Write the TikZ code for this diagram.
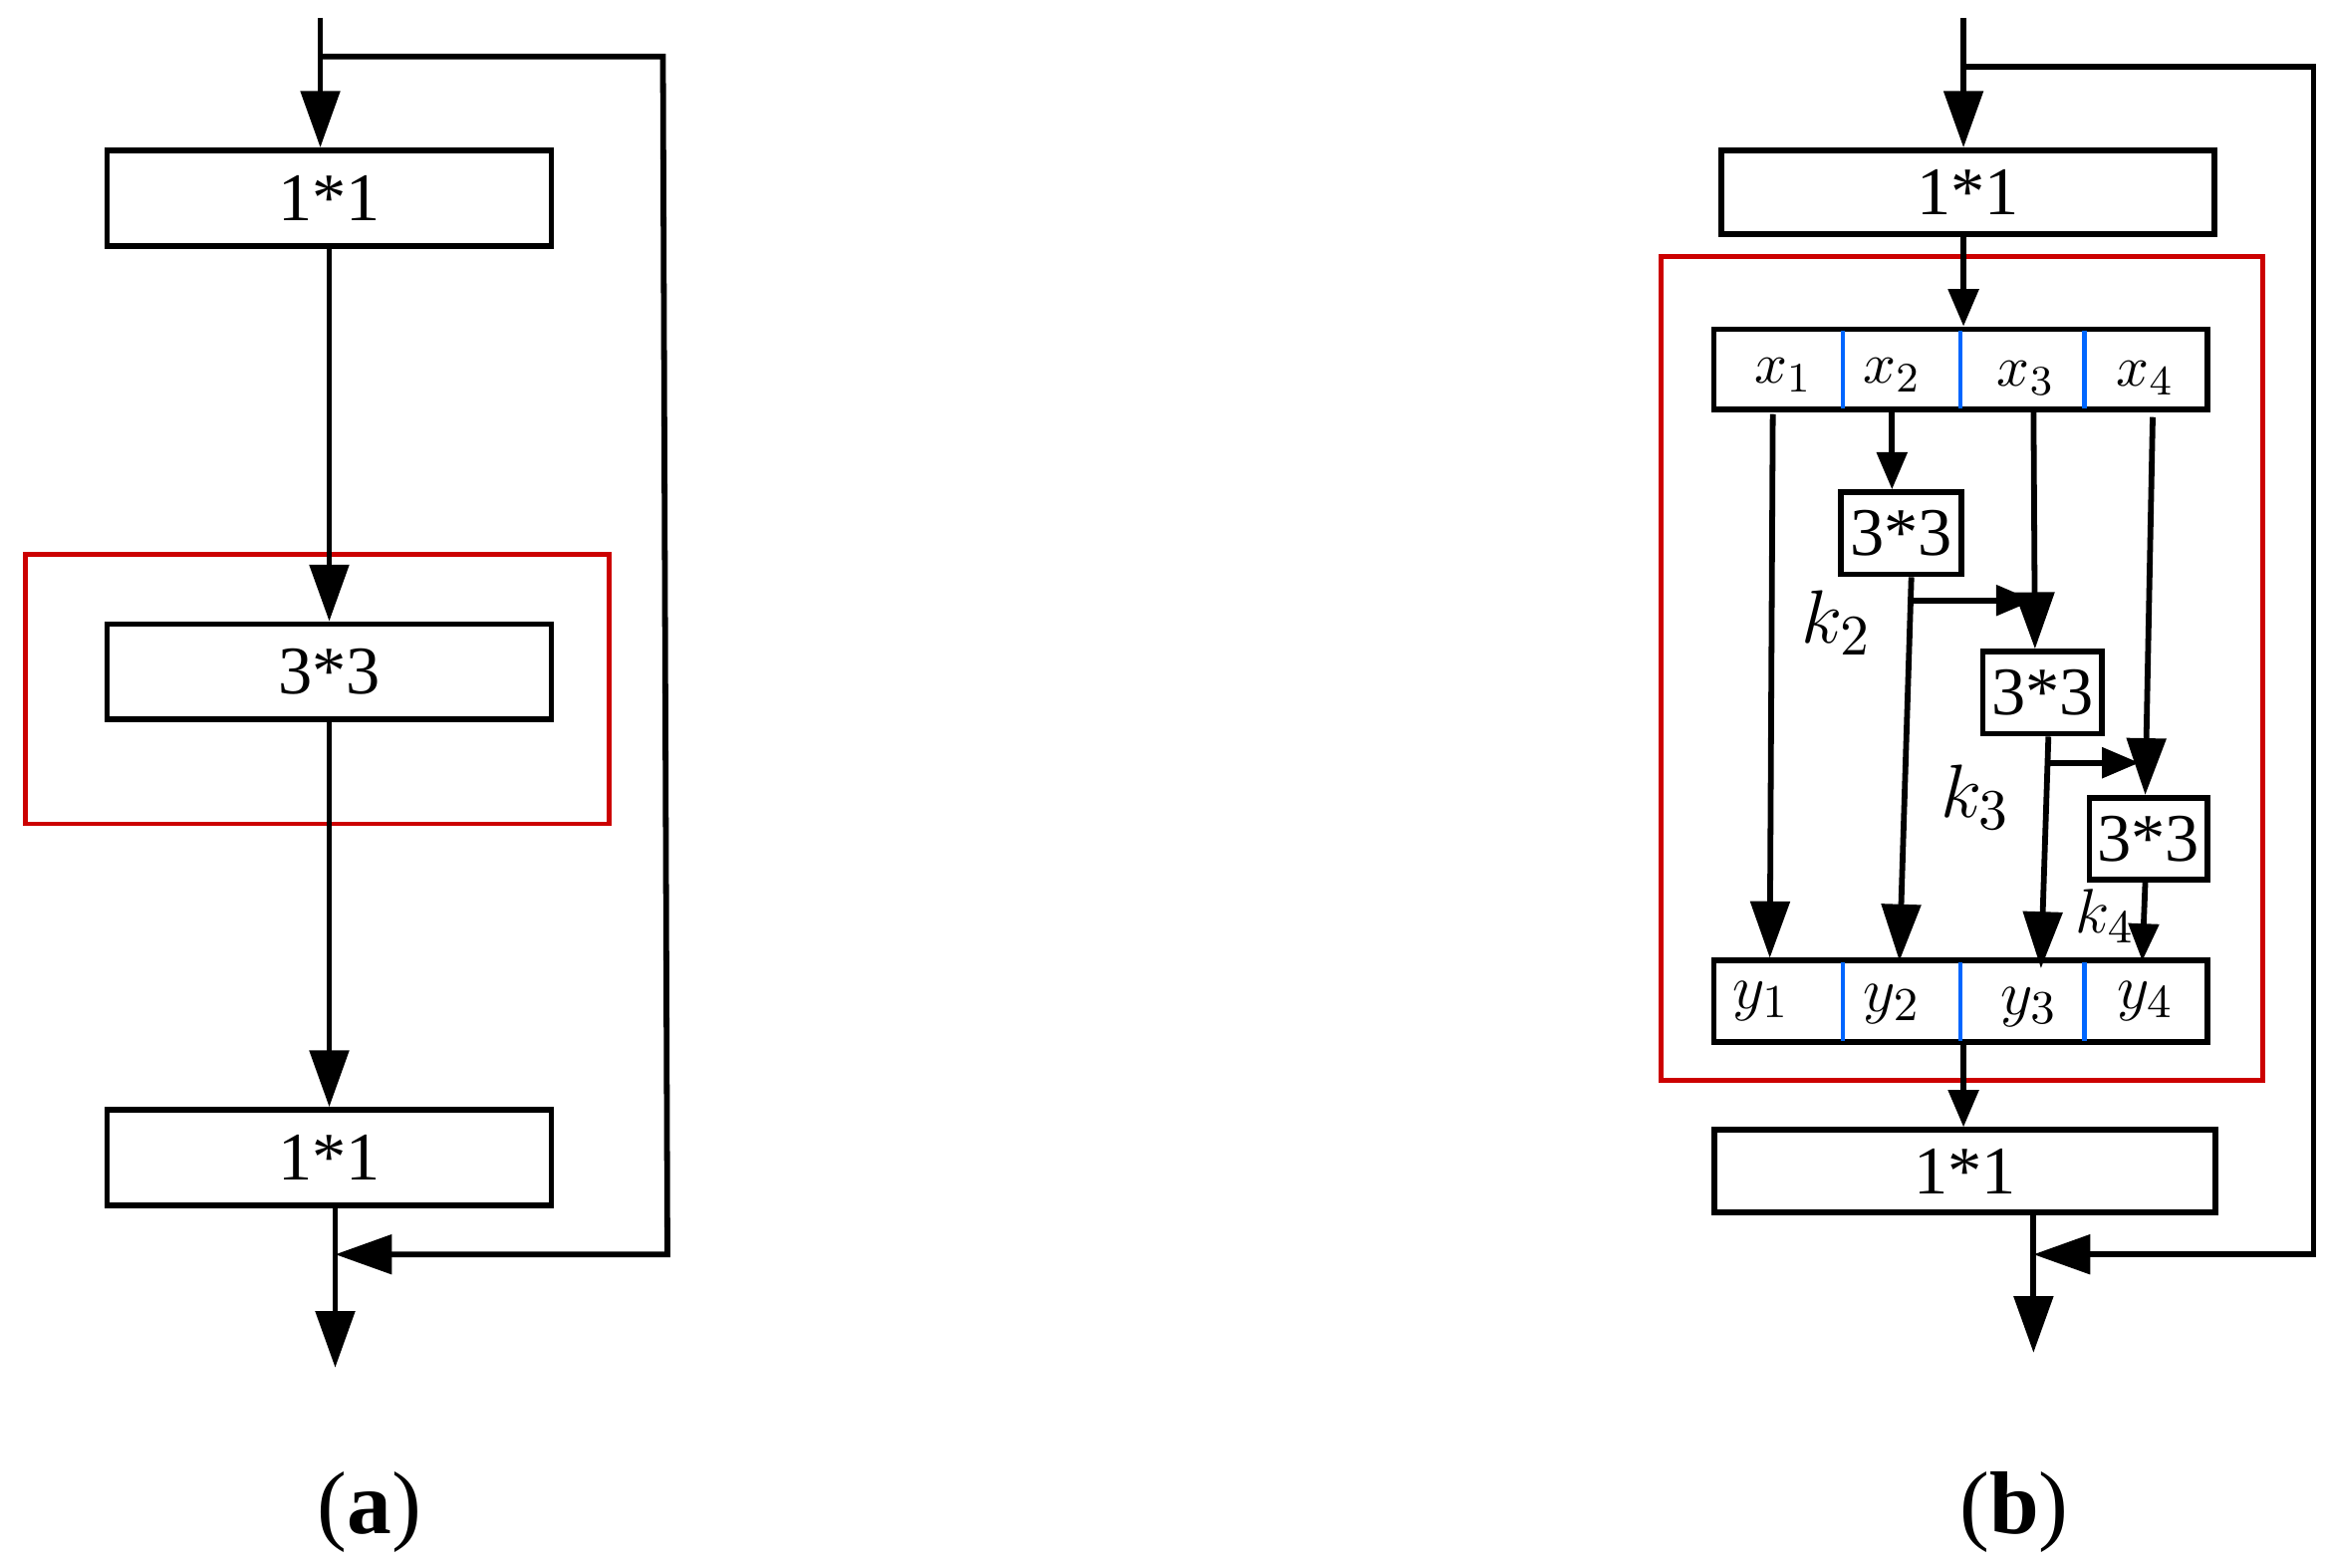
\documentclass[tikz,border=0pt]{standalone}
\usepackage{fontspec}
\setmainfont{Liberation Serif}
\usetikzlibrary{arrows.meta}
\begin{document}
\begin{tikzpicture}[x=0.01cm,y=-0.01cm,
  ln/.style={line width=1.1pt},
  ar/.style={ln,-{Triangle[length=0.38cm,width=0.26cm]}},
  sar/.style={ln,-{Triangle[length=0.25cm,width=0.2cm]}},
  bx/.style={draw,line width=1.1pt,inner sep=0pt},
  red/.style={draw=red!80!black,line width=0.9pt},
  bl/.style={draw=blue!60!cyan,line width=0.9pt},
  lab/.style={font=\fontsize{13}{15}\selectfont},
  mx/.style={font=\fontsize{11}{13}\selectfont}]
\useasboundingbox (0,0) rectangle (1562,1052);
% (a)
\draw[red] (17,372) rectangle (409,553);
\node[bx,minimum width=2.98cm,minimum height=0.64cm,lab] (a1) at (221,133) {1*1};
\node[bx,minimum width=2.98cm,minimum height=0.64cm,lab] (a3) at (221,451) {3*3};
\node[bx,minimum width=2.98cm,minimum height=0.64cm,lab] (a2) at (221,777) {1*1};
\coordinate (ain) at (215,12);
\coordinate (ab) at (215,38);
\coordinate (aout) at (225,918);
\coordinate (aj) at (225,842);
\draw[ar] (ain) -- (a1.north -| ain);
\draw[ar] (a1.south) -- (a3.north);
\draw[ar] (a3.south) -- (a2.north);
\draw[ar] (a2.south -| aout) -- (aout);
\draw[ar] (ab) -- (445,38) -- (448,842) -- (aj);
\node[font=\fontsize{17}{20}\selectfont] at (248,1015) {(\textbf{a})};
% (b)
\draw[red] (1115,172) rectangle (1519,725);
\node[bx,minimum width=3.31cm,minimum height=0.56cm,lab] (b1) at (1321,129) {1*1};
\node[bx,minimum width=3.31cm,minimum height=0.54cm] (xb) at (1316,248) {};
\node[bx,minimum width=3.31cm,minimum height=0.55cm] (yb) at (1316,672) {};
\node[bx,minimum width=3.36cm,minimum height=0.55cm,lab] (b2) at (1319,786) {1*1};
\foreach \x in {1237,1316,1399}{
  \draw[bl] (\x,222) -- (\x,274);
  \draw[bl] (\x,646) -- (\x,699);}
\node[mx] at (1197,252) {$x_1$};
\node[mx] at (1270,252) {$x_2$};
\node[mx] at (1360,254) {$x_3$};
\node[mx] at (1440,254) {$x_4$};
\node[lab] at (1182,672) {$y_1$};
\node[lab] at (1270,674) {$y_2$};
\node[lab] at (1362,676) {$y_3$};
\node[lab] at (1440,672) {$y_4$};
\node[bx,minimum width=0.81cm,minimum height=0.55cm,lab] (c1) at (1276,358) {3*3};
\node[bx,minimum width=0.80cm,minimum height=0.55cm,lab] (c2) at (1371,465) {3*3};
\node[bx,minimum width=0.79cm,minimum height=0.55cm,lab] (c3) at (1442,563) {3*3};
\coordinate (bin) at (1318,12);
\coordinate (bb) at (1318,45);
\coordinate (bout) at (1365,908);
\coordinate (bj) at (1365,842);
\draw[ar] (bin) -- (b1.north -| bin);
\draw[ar] (bb) -- (1553,45) -- (1553,842) -- (bj);
\draw[sar] (b1.south -| bin) -- (xb.north -| bin);
\draw[ar] (1190,278) -- (1188,643);
\draw[sar] (1270,275) -- (c1.north -| 1270,0);
\draw[ar] (1365,275) -- (c2.north -| 1366,0);
\draw[ar] (1445,280) -- (c3.north -| 1440,0);
\draw[ar] (c1.south -| 1283,0) -- (1275,645);
\draw[sar] (1283,403) -- (1365,403);
\draw[ar] (c2.south -| 1375,0) -- (1370,650);
\draw[sar] (1375,512) -- (1436,512);
\draw[sar] (c3.south -| 1440,0) -- (1438,645);
\draw[sar] (yb.south -| bin) -- (b2.north -| bin);
\draw[ar] (b2.south -| bout) -- (bout);
\node[font=\fontsize{15}{18}\selectfont] at (1233,418) {$k_2$};
\node[font=\fontsize{15}{18}\selectfont] at (1326,535) {$k_3$};
\node[font=\fontsize{13}{15}\selectfont] at (1413,615) {$k_4$};
\node[font=\fontsize{17}{20}\selectfont] at (1352,1015) {(\textbf{b})};
\end{tikzpicture}
\end{document}
